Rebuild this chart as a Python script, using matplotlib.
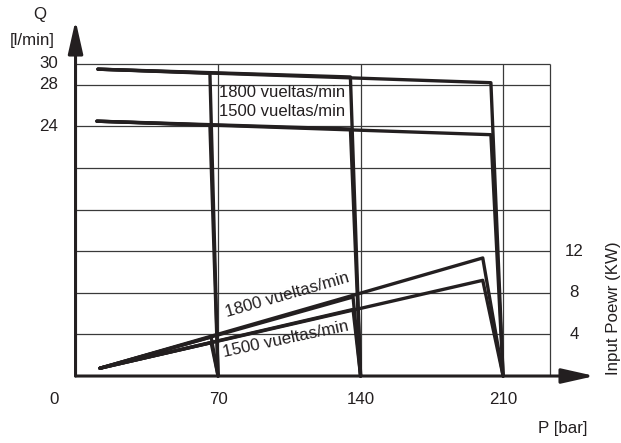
import matplotlib.pyplot as plt

plt.rcParams['font.family'] = ['Liberation Sans', 'DejaVu Sans']
INK = '#231f20'

# Presiones de corte del compensador (bar)
cutoff_p = [70, 140, 210]

# Caudal: punto de arranque (1800, 1500) y codos antes de cada corte
flow_start_p = [11, 10.5]
flow_start_q = [29.5, 24.5]
flow_knee_p = [66, 135, 204]
flow_1800 = [29.1, 28.75, 28.2]
flow_1500 = [24.1, 23.75, 23.2]

# Potencia absorbida (KW): arranque común y codos antes de cada corte
power_start_p = 12
power_start_kw = 0.75
power_knee_p = [66.6, 136.3, 200]
power_1800 = [3.75, 7.6, 11.35]
power_1500 = [3.2, 6.4, 9.2]

p_ticks = [0, 70, 140, 210]
q_ticks = [24, 28, 30]
kw_ticks = [4, 8, 12]
grid_q = [4, 8, 12, 16, 20, 24, 28, 30]
grid_p = [70, 140, 210, 233]

fig = plt.figure(figsize=(6.21, 4.43), dpi=100)
ax = fig.add_axes([0, 0, 1, 1])
ax.set_xlim(-37.1, 267.9)
ax.set_ylim(-6.44, 36.15)
ax.axis('off')

# rejilla
ax.hlines(grid_q, 0, grid_p[-1], color='#3a3a3a', lw=0.9, zorder=1)
ax.vlines(grid_p, 0, grid_q[-1], color='#3a3a3a', lw=0.9, zorder=1)

# ejes con flecha
arrow = dict(arrowstyle='-|>,head_length=2.0,head_width=0.45', color=INK,
             lw=2.2, shrinkA=0, shrinkB=0, mutation_scale=10)
ax.annotate('', xy=(255, 0), xytext=(0, 0), arrowprops=arrow, zorder=4)
ax.annotate('', xy=(0, 34.2), xytext=(0, 0), arrowprops=arrow, zorder=4)

line_kw = dict(color=INK, lw=2.4, solid_joinstyle='round',
               solid_capstyle='round', zorder=3)

# curvas de caudal
for flows, p0, q0 in zip([flow_1800, flow_1500], flow_start_p, flow_start_q):
    for pk, qk, pc in zip(flow_knee_p, flows, cutoff_p):
        ax.plot([p0, pk, pc], [q0, qk, 0], **line_kw)

# curvas de potencia
for powers in [power_1800, power_1500]:
    for pk, wk, pc in zip(power_knee_p, powers, cutoff_p):
        ax.plot([power_start_p, pk, pc], [power_start_kw, wk, 0], **line_kw)

fs = 12.2
ax.text(-17.4, 34.8, 'Q', fontsize=fs, ha='center', va='center', color=INK)
ax.text(-21.4, 32.3, '[l/min]', fontsize=fs, ha='center', va='center', color=INK)
for q in q_ticks:
    ax.text(-8.6, q, str(q), fontsize=fs, ha='right', va='center', color=INK)
for w in kw_ticks:
    ax.text(245, w, str(w), fontsize=fs, ha='center', va='center', color=INK)
ax.text(-10.6, -2.3, '0', fontsize=fs, ha='center', va='center', color=INK)
for p in p_ticks[1:]:
    ax.text(p, -2.3, str(p), fontsize=fs, ha='center', va='center', color=INK)
ax.text(239.5, -5.0, 'P [bar]', fontsize=fs, ha='center', va='center', color=INK)
ax.text(264, 6.5, 'Input Poewr (KW)', fontsize=fs, ha='center', va='center',
        rotation=90, color=INK)

ax.text(70.5, 27.3, '1800 vueltas/min', fontsize=12, ha='left', va='center', color=INK)
ax.text(70.5, 25.4, '1500 vueltas/min', fontsize=12, ha='left', va='center', color=INK)
ax.text(104, 7.8, '1800 vueltas/min', fontsize=fs, ha='center', va='center',
        rotation=16, rotation_mode='anchor', color=INK)
ax.text(103.5, 3.5, '1500 vueltas/min', fontsize=fs, ha='center', va='center',
        rotation=12, rotation_mode='anchor', color=INK)

fig.savefig('out.png', dpi=100)
